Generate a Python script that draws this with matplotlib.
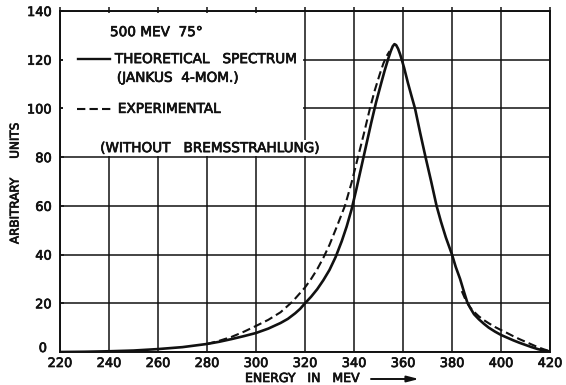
import matplotlib
matplotlib.use("Agg")
import matplotlib.pyplot as plt
from matplotlib.patches import Rectangle
from matplotlib.lines import Line2D
from matplotlib.transforms import offset_copy
import matplotlib.patheffects as pe

# ---- data ----
theory_energy = [220, 230, 240, 250, 260, 270, 280, 285, 290, 295, 300, 305, 310,
                 313, 316, 318, 320, 322.5, 325, 327.5, 330, 332.5, 335, 337, 339,
                 341, 343, 345, 347, 349, 351, 352.5, 354, 355, 355.8, 356.5,
                 357.2, 358, 358.8, 359.5, 360.5, 362, 363.5, 364.9, 367, 369.2,
                 371.5, 373.7, 375.5, 377.5, 380, 381.5, 383.3, 384.8, 386.2,
                 387.5, 389, 391, 393, 395, 397.5, 400, 402.5, 405, 407.5, 410,
                 412.5, 415, 417.5, 420]
theory_units = [0, 0.1, 0.3, 0.6, 1.2, 2.0, 3.3, 4.2, 5.3, 6.5, 7.8, 9.6, 11.9,
                13.6, 15.9, 17.7, 20, 22.7, 25.8, 29.5, 33.7, 39, 45.5, 51.5, 58.5,
                67, 76, 85, 94, 102.5, 110, 115.5, 120.5, 123.5, 125.5, 126.4,
                126, 124.5, 122.3, 120, 116.5, 110.5, 105, 100, 90, 80,
                70, 60, 53.5, 47, 40, 35, 30, 25, 20.5,
                18, 15.5, 13.4, 11.6, 10, 8.4, 7.0, 5.9, 4.8, 3.8, 2.9,
                2.0, 1.2, 0.6, 0.2]

exp_energy = [280, 285, 290, 295, 300, 305, 310, 315, 320, 322.5, 325, 327.5,
              330, 333, 336.3, 339, 341.5, 344, 346.5, 348.5, 350.5, 352,
              353.5, 354.5]
exp_units = [3.3, 4.6, 6.2, 8.3, 10.7, 13.2, 16.3, 20.8, 26.5, 30, 34, 38.7,
             44, 51.5, 60, 69.5, 79.5, 89.5, 100, 107.5, 114, 118.5,
             121.8, 123.5]

exp_tail_energy = [384, 385.5, 387, 389, 391, 393, 395, 397.5, 400, 402.5, 405,
                   407.5, 410, 412.5, 415, 417.5, 420]
exp_tail_units = [25, 21.5, 18.8, 16.5, 14.6, 13.1, 11.8, 10.3, 9, 7.8, 6.5,
                  5.3, 4.2, 3.1, 2, 1.1, 0.3]

x_ticks = [220, 240, 260, 280, 300, 320, 340, 360, 380, 400, 420]
y_ticks = [0, 20, 40, 60, 80, 100, 120, 140]

title_text = "500 MEV  75°"
theory_label = "THEORETICAL   SPECTRUM"
theory_sub = "(JANKUS  4-MOM.)"
exp_label = "EXPERIMENTAL"
note_text = "(WITHOUT   BREMSSTRAHLUNG)"
x_label = "ENERGY   IN   MEV"
y_label = "ARBITRARY     UNITS"

plt.rcParams['font.family'] = ['DejaVu Sans']
plt.rcParams['lines.scale_dashes'] = False

W, H = 566, 385
fig = plt.figure(figsize=(W / 100, H / 100), dpi=100)
fig.patch.set_facecolor('white')
ax = fig.add_axes([60 / W, 1 - 352 / H, 490 / W, 341 / H])
ax.set_xlim(220, 420)
ax.set_ylim(0, 140)

ink = '#111111'
thick = [pe.withStroke(linewidth=0.5, foreground=ink)]

ax.set_xticks(x_ticks)
ax.set_yticks(y_ticks)
ax.set_xticklabels([str(v) for v in x_ticks], fontsize=9.3, color=ink, path_effects=thick)
# the "0" label sits a little up and to the left in the reference; drawn separately
ax.set_yticklabels(['' if v == 0 else str(v) for v in y_ticks], fontsize=9.3,
                   color=ink, path_effects=thick)
ax.text(0, y_ticks[0], str(y_ticks[0]),
        transform=offset_copy(ax.get_yaxis_transform(), fig=fig, x=-13, y=3.5, units='dots'),
        ha='right', va='center', fontsize=9.3, color=ink, path_effects=thick)
ax.tick_params(axis='x', bottom=False, top=True, direction='out', length=3,
               width=1.1, color=ink, pad=0.6)
ax.tick_params(axis='y', left=True, right=False, direction='in', length=3,
               width=1.1, color=ink, pad=6)
ax.grid(True, color=ink, linewidth=1.1)
ax.set_axisbelow(True)
for s in ax.spines.values():
    s.set_color(ink)
    s.set_linewidth(1.4)

# white panel behind the legend text
ax.add_patch(Rectangle((0.006, 0.575), 0.489, 0.418, transform=ax.transAxes,
                       facecolor='white', edgecolor='none', zorder=1))

ax.plot(theory_energy, theory_units, color=ink, linewidth=1.9, zorder=3,
        solid_joinstyle='round', solid_capstyle='round')
ax.plot(exp_energy, exp_units, color=ink, linewidth=1.5, dashes=(6, 3), zorder=3)
ax.plot(exp_tail_energy, exp_tail_units, color=ink, linewidth=1.5, dashes=(6, 3), zorder=3)

tk = dict(transform=ax.transAxes, fontsize=9.8, color=ink, va='center', ha='left',
          zorder=4, path_effects=thick)
ax.text(0.102, 0.938, title_text, **tk)
ax.add_line(Line2D([0.037, 0.102], [0.859, 0.859], transform=ax.transAxes,
                   color=ink, linewidth=1.7, zorder=4))
ax.text(0.112, 0.859, theory_label, **tk)
ax.text(0.116, 0.804, theory_sub, **tk)
ax.add_line(Line2D([0.035, 0.108], [0.713, 0.713], transform=ax.transAxes,
                   color=ink, linewidth=1.5, dashes=(6, 3), zorder=4))
ax.text(0.118, 0.713, exp_label, **tk)
ax.text(0.082, 0.598, note_text,
        bbox=dict(facecolor='white', edgecolor='none', pad=0.5), **tk)

fig.text(15 / W, 1 - 184 / H, y_label, rotation=90, ha='center', va='center',
         fontsize=8.6, color=ink, path_effects=thick)
fig.text(245 / W, 1 - 378.5 / H, x_label, ha='left', va='center',
         fontsize=9.0, color=ink, path_effects=thick)
ax.annotate('', xy=(419, 385 - 379), xytext=(371, 385 - 379),
            xycoords='figure pixels', textcoords='figure pixels',
            arrowprops=dict(arrowstyle='-|>,head_length=0.7,head_width=0.18',
                            color=ink, lw=1.4, shrinkA=0, shrinkB=0))

fig.savefig('out.png', dpi=100, facecolor='white')
